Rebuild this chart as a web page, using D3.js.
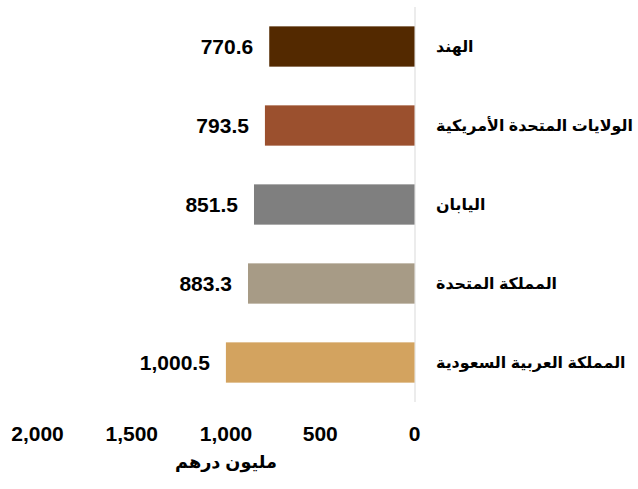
<!DOCTYPE html>
<html>
<head>
<meta charset="utf-8">
<script src="https://cdn.jsdelivr.net/npm/d3@7"></script>
<style>
  body { margin: 0; background: #fff; }
  text { font-family: "Liberation Sans", "DejaVu Sans", sans-serif; font-weight: bold; }
</style>
</head>
<body>
<div id="chart"></div>
<script>
// chart values
const countries = ["الهند", "الولايات المتحدة الأمريكية", "اليابان", "المملكة المتحدة", "المملكة العربية السعودية"];
const values = [770.6, 793.5, 851.5, 883.3, 1000.5];
const barColors = ["#532900", "#9b502e", "#7f7f7f", "#a79b86", "#d3a35f"];
const tickValues = [0, 500, 1000, 1500, 2000];
const axisTitle = "مليون درهم";

const width = 638;
const height = 489;

const svg = d3.select("#chart")
    .append("svg")
    .attr("width", width)
    .attr("height", height);

// bars grow to the left from zero
const x = d3.scaleLinear()
    .domain([0, 2000])
    .range([414.5, 37.5]);

const y = d3.scaleBand()
    .domain(countries)
    .range([7, 402])
    .paddingInner(0.49)
    .paddingOuter(0.245);

// vertical axis line at zero
svg.append("line")
    .attr("x1", x(0) + 0.5)
    .attr("x2", x(0) + 0.5)
    .attr("y1", y.range()[0])
    .attr("y2", y.range()[1])
    .attr("stroke", "#d9d9d9")
    .attr("stroke-width", 1);

svg.append("g")
    .selectAll("rect")
    .data(countries)
    .enter()
    .append("rect")
    .attr("x", (d, i) => x(values[i]))
    .attr("y", d => y(d))
    .attr("width", (d, i) => x(0) - x(values[i]))
    .attr("height", y.bandwidth())
    .attr("fill", (d, i) => barColors[i]);

// value labels to the left of each bar
svg.append("g")
    .selectAll("text")
    .data(countries)
    .enter()
    .append("text")
    .attr("x", (d, i) => x(values[i]) - 16)
    .attr("y", d => y(d) + y.bandwidth() / 2)
    .attr("dy", "0.36em")
    .attr("text-anchor", "end")
    .style("font-size", "21px")
    .text((d, i) => d3.format(",.1f")(values[i]));

// country names on the right
const names = svg.append("g")
    .selectAll("text")
    .data(countries)
    .enter()
    .append("text")
    .attr("x", 436)
    .attr("y", d => y(d) + y.bandwidth() / 2)
    .attr("dy", "0.36em")
    .attr("text-anchor", "start")
    .style("font-size", "17px")
    .text(d => d);

// the arabic fallback font is wider than the original, so shrink to the width of the longest name
const longest = d3.max(names.nodes(), n => n.getComputedTextLength());
names.style("font-size", (17 * 197 / longest) + "px");

// tick labels along the bottom
svg.append("g")
    .selectAll("text")
    .data(tickValues)
    .enter()
    .append("text")
    .attr("x", d => x(d))
    .attr("y", 433)
    .attr("dy", "0.36em")
    .attr("text-anchor", "middle")
    .style("font-size", "21px")
    .text(d => d3.format(",")(d));

const title = svg.append("text")
    .attr("x", (x(0) + x(2000)) / 2)
    .attr("y", 468)
    .attr("text-anchor", "middle")
    .style("font-size", "20px")
    .text(axisTitle);
title.style("font-size", (20 * 102 / title.node().getComputedTextLength()) + "px");
</script>
</body>
</html>
